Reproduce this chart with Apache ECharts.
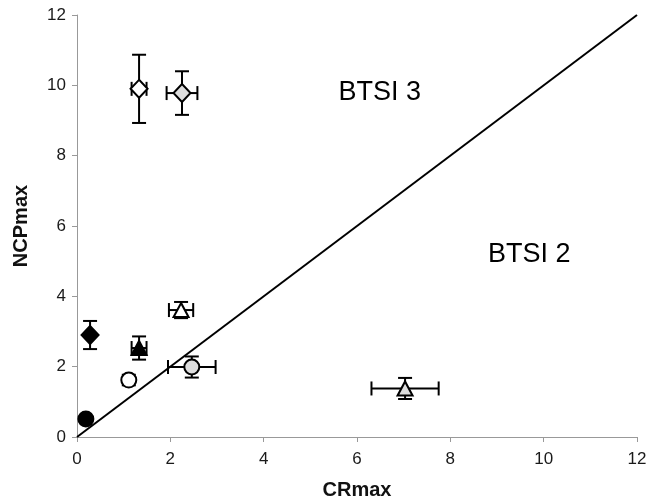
<!DOCTYPE html>
<html>
<head>
<meta charset="utf-8">
<script src="https://cdn.jsdelivr.net/npm/echarts@6/dist/echarts.min.js"></script>
<style>html,body{margin:0;padding:0;background:#fff}#c{width:653px;height:502px}</style>
</head>
<body>
<div id="c"></div>
<script>
// Data
const xTicks = [0, 2, 4, 6, 8, 10, 12];
const yTicks = [0, 2, 4, 6, 8, 10, 12];
const crMax  = [0.19, 0.28, 1.33, 1.11, 2.23, 2.46, 7.03, 1.33, 2.25];
const ncpMax = [0.51, 2.90, 2.53, 1.62, 3.61, 1.99, 1.38, 9.90, 9.78];
const crErr  = [0,    0,    0.16, 0,    0.26, 0.51, 0.72, 0.16, 0.33];
const ncpErr = [0,    0.40, 0.33, 0.15, 0.23, 0.30, 0.30, 0.97, 0.62];
const shapes = ['circle','diamond','triangle','circle','triangle','circle','triangle','diamond','diamond'];
const fills  = ['#000','#000','#000','#fff','#fff','#ddd','#ddd','#fff','#ddd'];
const diagonal = [[0, 0], [12, 12]];
const regionLabels = [[6.49, 9.8, 'BTSI 3'], [9.69, 5.19, 'BTSI 2']];

const chart = echarts.init(document.getElementById('c'));
const font = 'Liberation Sans, Arial, Helvetica, sans-serif';

const errData = crMax.map((x, i) => [x, ncpMax[i], crErr[i], ncpErr[i]]);
const ptData = crMax.map((x, i) => ({
  value: [x, ncpMax[i]],
  symbol: shapes[i],
  symbolSize: shapes[i] === 'diamond' ? [17, 18] : (shapes[i] === 'triangle' ? [15, 14] : 15),
  itemStyle: { color: fills[i], borderColor: '#000', borderWidth: 2, opacity: 1 }
}));

chart.setOption({
  animation: false,
  grid: { left: 77, right: 16, top: 15, bottom: 65, outerBoundsMode: 'none', containLabel: false },
  xAxis: {
    type: 'value', min: 0, max: 12, interval: 2,
    name: 'CRmax', nameLocation: 'middle', nameGap: 43,
    nameTextStyle: { fontFamily: font, fontSize: 20, fontWeight: 'bold', color: '#111' },
    axisLine: { show: true, onZero: false, lineStyle: { color: '#999', width: 1 } },
    axisTick: { show: true, length: 5, lineStyle: { color: '#999' } },
    axisLabel: { fontFamily: font, fontSize: 17, color: '#1a1a1a', margin: 14 },
    splitLine: { show: false }
  },
  yAxis: {
    type: 'value', min: 0, max: 12, interval: 2,
    name: 'NCPmax', nameLocation: 'middle', nameGap: 46,
    nameTextStyle: { fontFamily: font, fontSize: 20, fontWeight: 'bold', color: '#111' },
    axisLine: { show: true, onZero: false, lineStyle: { color: '#999', width: 1 } },
    axisTick: { show: true, length: 5, lineStyle: { color: '#999' } },
    axisLabel: { fontFamily: font, fontSize: 17, color: '#1a1a1a', margin: 11 },
    splitLine: { show: false }
  },
  series: [
    {
      type: 'line', data: diagonal, symbol: 'none', silent: true,
      lineStyle: { color: '#000', width: 2 }, z: 1
    },
    {
      type: 'custom', z: 2,
      data: errData,
      renderItem: function (params, api) {
        const x = api.value(0), y = api.value(1), xe = api.value(2), ye = api.value(3);
        const c = api.coord([x, y]);
        const cap = 7;
        const children = [];
        const st = { stroke: '#000', lineWidth: 2 };
        if (xe > 0) {
          const l = api.coord([x - xe, y]), r = api.coord([x + xe, y]);
          children.push({ type: 'line', shape: { x1: l[0], y1: c[1], x2: r[0], y2: c[1] }, style: st });
          children.push({ type: 'line', shape: { x1: l[0], y1: c[1] - cap, x2: l[0], y2: c[1] + cap }, style: st });
          children.push({ type: 'line', shape: { x1: r[0], y1: c[1] - cap, x2: r[0], y2: c[1] + cap }, style: st });
        }
        if (ye > 0) {
          const t = api.coord([x, y + ye]), b = api.coord([x, y - ye]);
          children.push({ type: 'line', shape: { x1: c[0], y1: t[1], x2: c[0], y2: b[1] }, style: st });
          children.push({ type: 'line', shape: { x1: c[0] - cap, y1: t[1], x2: c[0] + cap, y2: t[1] }, style: st });
          children.push({ type: 'line', shape: { x1: c[0] - cap, y1: b[1], x2: c[0] + cap, y2: b[1] }, style: st });
        }
        return { type: 'group', children: children };
      }
    },
    {
      type: 'scatter', z: 3, data: ptData
    },
    {
      type: 'scatter', z: 4, symbolSize: 0, silent: true,
      itemStyle: { opacity: 1 },
      data: regionLabels,
      label: {
        show: true, position: 'inside',
        formatter: p => p.data[2],
        fontFamily: font, fontSize: 27, color: '#000'
      }
    }
  ]
});
</script>
</body>
</html>
